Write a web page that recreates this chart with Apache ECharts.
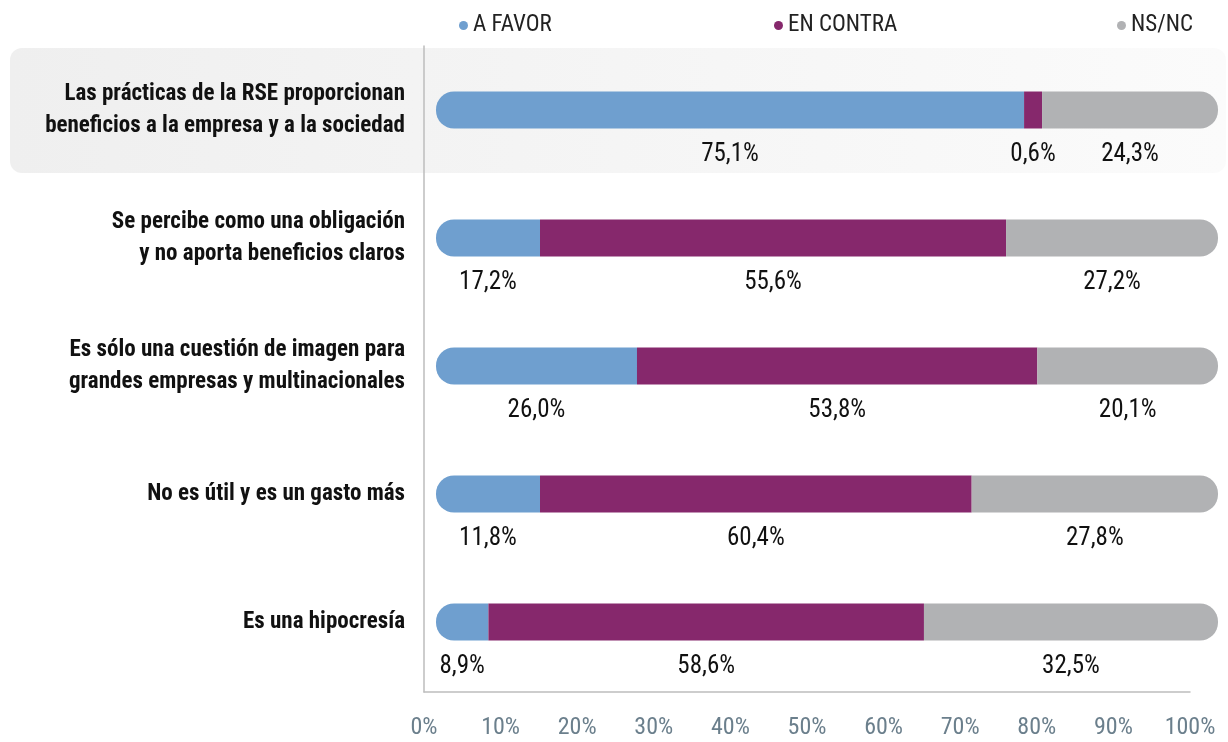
<!DOCTYPE html>
<html>
<head>
<meta charset="utf-8">
<title>RSE</title>
<script src="https://cdn.jsdelivr.net/npm/echarts@6/dist/echarts.min.js"></script>
<style>
  html, body { margin: 0; padding: 0; background: #fff; }
  #chart { width: 1228px; height: 742px; }
</style>
</head>
<body>
<div id="chart"></div>
<script>
// categorias (de arriba a abajo)
var categorias = [
  'Las prácticas de la RSE proporcionan\nbeneficios a la empresa y a la sociedad',
  'Se percibe como una obligación\ny no aporta beneficios claros',
  'Es sólo una cuestión de imagen para\ngrandes empresas y multinacionales',
  'No es útil y es un gasto más',
  'Es una hipocresía'
];

// largo de cada tramo tal como se dibuja en el grafico (%)
var aFavor = [75.2, 13.3, 25.7, 13.3, 6.7];
var enContra = [2.3, 59.6, 51.2, 55.2, 55.7];
var nsnc = [22.5, 27.1, 23.1, 31.5, 37.6];

// cifras impresas debajo de cada tramo
var aFavorTxt = ['75,1%', '17,2%', '26,0%', '11,8%', '8,9%'];
var enContraTxt = ['0,6%', '55,6%', '53,8%', '60,4%', '58,6%'];
var nsncTxt = ['24,3%', '27,2%', '20,1%', '27,8%', '32,5%'];

// etiquetas del eje
var ticks = [0, 10, 20, 30, 40, 50, 60, 70, 80, 90, 100];

var fuente = '"Roboto Condensed", Roboto, sans-serif';
var colores = ['#6f9fcf', '#86286c', '#b1b2b4'];

var chart = echarts.init(document.getElementById('chart'));

function etiqueta(textos) {
  return {
    show: true,
    position: 'bottom',
    distance: 14,
    color: '#111',
    fontFamily: fuente,
    fontSize: 25,
    formatter: function (p) {
      return textos[p.dataIndex];
    }
  };
}

function leyenda(nombre, left) {
  return {
    data: [nombre],
    left: left,
    top: 9,
    icon: 'circle',
    itemWidth: 9,
    itemHeight: 9,
    selectedMode: false,
    textStyle: { color: '#222', fontFamily: fuente, fontSize: 23 }
  };
}

chart.setOption({
  animation: false,
  color: colores,
  legend: [
    leyenda('A FAVOR', 454),
    leyenda('EN CONTRA', 769),
    leyenda('NS/NC', 1112)
  ],
  // fondo gris de la primera fila
  graphic: [
    {
      type: 'rect',
      z: -10,
      shape: { x: 10, y: 48, width: 1216, height: 125, r: 12 },
      style: {
        fill: new echarts.graphic.LinearGradient(0, 0, 1, 0, [
          { offset: 0, color: '#efefef' },
          { offset: 1, color: '#fbfbfb' }
        ])
      }
    }
  ],
  grid: [
    { left: 436, right: 10, top: 46, bottom: 56, outerBoundsMode: 'none', containLabel: false },
    { left: 424, right: 38, top: 46, bottom: 50, outerBoundsMode: 'none', containLabel: false }
  ],
  xAxis: [
    {
      gridIndex: 0,
      type: 'value',
      min: 0,
      max: 100,
      show: false
    },
    {
      gridIndex: 1,
      type: 'value',
      min: ticks[0],
      max: ticks[ticks.length - 1],
      interval: 10,
      axisLine: { show: true, lineStyle: { color: '#bdbdbd', width: 1.5 } },
      axisTick: { show: false },
      splitLine: { show: false },
      axisLabel: {
        margin: 24,
        color: '#6b7f8c',
        fontFamily: fuente,
        fontSize: 24,
        formatter: '{value}%'
      }
    }
  ],
  yAxis: [
    {
      gridIndex: 0,
      type: 'category',
      inverse: true,
      data: categorias,
      axisLine: { show: false },
      axisTick: { show: false },
      axisLabel: {
        margin: 31,
        color: '#111',
        fontFamily: fuente,
        fontWeight: 'bold',
        fontSize: 23,
        lineHeight: 32,
        align: 'right'
      }
    },
    {
      gridIndex: 1,
      type: 'value',
      min: 0,
      max: 1,
      axisLine: { show: true, lineStyle: { color: '#bdbdbd', width: 1.5 } },
      axisTick: { show: false },
      axisLabel: { show: false },
      splitLine: { show: false }
    }
  ],
  series: [
    {
      name: 'A FAVOR',
      type: 'bar',
      stack: 'total',
      barWidth: 37,
      data: aFavor,
      itemStyle: { borderRadius: [18, 0, 0, 18] },
      label: etiqueta(aFavorTxt)
    },
    {
      name: 'EN CONTRA',
      type: 'bar',
      stack: 'total',
      barWidth: 37,
      data: enContra,
      label: etiqueta(enContraTxt)
    },
    {
      name: 'NS/NC',
      type: 'bar',
      stack: 'total',
      barWidth: 37,
      data: nsnc,
      itemStyle: { borderRadius: [0, 18, 18, 0] },
      label: etiqueta(nsncTxt)
    }
  ]
});
</script>
</body>
</html>
